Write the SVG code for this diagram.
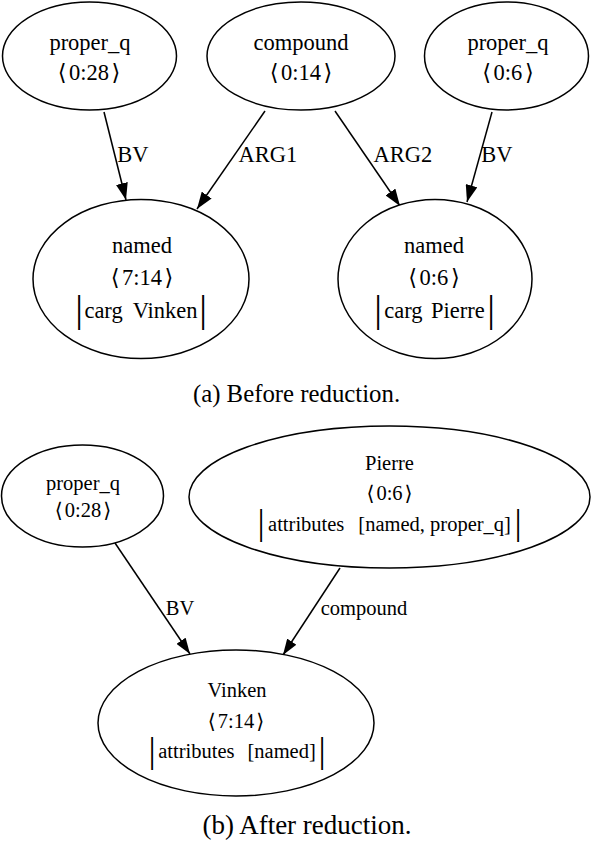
<svg xmlns="http://www.w3.org/2000/svg" width="592" height="844" viewBox="0 0 592 844">
<style>
.n{fill:#fff;stroke:#000;stroke-width:1.5}
.e{stroke:#000;stroke-width:1.5;fill:none}
text{font-family:"Liberation Serif","DejaVu Serif",serif;fill:#000;text-anchor:middle}
.t{font-size:22.5px}
.b{font-size:20.5px}
.bar1{font-size:38.5px}
.bar2{font-size:36px}
.cap{font-size:24.8px}
.capb{font-size:27px}
</style>
<defs>
<marker id="ah" markerUnits="userSpaceOnUse" markerWidth="17" markerHeight="12" refX="17" refY="6" orient="auto">
<path d="M0,0 L17,6 L0,12 z" fill="#000"/>
</marker>
<marker id="ah2" markerUnits="userSpaceOnUse" markerWidth="16" markerHeight="11" refX="16" refY="5.5" orient="auto">
<path d="M0,0 L16,5.5 L0,11 z" fill="#000"/>
</marker>
</defs>
<rect width="592" height="844" fill="#fff"/>
<g id="connectors">
<line class="e" x1="104" y1="112" x2="126" y2="200" marker-end="url(#ah)"/>
<line class="e" x1="265" y1="111" x2="197" y2="209" marker-end="url(#ah)"/>
<line class="e" x1="335" y1="111" x2="400" y2="206" marker-end="url(#ah)"/>
<line class="e" x1="492" y1="112" x2="467" y2="202" marker-end="url(#ah)"/>
<text class="t" x="133" y="162">BV</text>
<text class="t" x="268" y="162">ARG1</text>
<text class="t" x="403" y="162">ARG2</text>
<text class="t" x="497" y="162">BV</text>
<line class="e" x1="115" y1="543" x2="190" y2="654" marker-end="url(#ah2)"/>
<line class="e" x1="340" y1="568" x2="283" y2="655" marker-end="url(#ah2)"/>
<text class="b" x="180" y="615">BV</text>
<text class="b" x="364" y="615">compound</text>
</g>
<g id="a_proper_q1">
<ellipse class="n" cx="89.5" cy="56" rx="87" ry="54"/>
<text class="t" x="90" y="50">proper_q</text>
<text class="t" x="89" y="80">⟨<tspan dx="2.5">0:28</tspan><tspan dx="2.5">⟩</tspan></text>
</g>
<g id="a_compound">
<ellipse class="n" cx="301" cy="56" rx="94" ry="54"/>
<text class="t" x="301" y="50">compound</text>
<text class="t" x="301" y="80">⟨<tspan dx="2.5">0:14</tspan><tspan dx="2.5">⟩</tspan></text>
</g>
<g id="a_proper_q2">
<ellipse class="n" cx="506.5" cy="56" rx="82" ry="54"/>
<text class="t" x="508" y="50">proper_q</text>
<text class="t" x="508" y="80">⟨<tspan dx="2.5">0:6</tspan><tspan dx="2.5">⟩</tspan></text>
</g>
<g id="a_named_vinken">
<ellipse class="n" cx="141" cy="279" rx="108" ry="79.5"/>
<text class="t" x="142" y="253">named</text>
<text class="t" x="142" y="285">⟨<tspan dx="2.5">7:14</tspan><tspan dx="2.5">⟩</tspan></text>
<text class="bar1" x="79" y="321.5">|</text>
<text class="t" x="141" y="318">carg<tspan dx="10">Vinken</tspan></text>
<text class="bar1" x="203" y="321.5">|</text>
</g>
<g id="a_named_pierre">
<ellipse class="n" cx="435" cy="279" rx="97" ry="79.5"/>
<text class="t" x="434" y="253">named</text>
<text class="t" x="434" y="285">⟨<tspan dx="2.5">0:6</tspan><tspan dx="2.5">⟩</tspan></text>
<text class="bar1" x="378" y="321.5">|</text>
<text class="t" x="434.5" y="318">carg<tspan dx="8.5">Pierre</tspan></text>
<text class="bar1" x="491" y="321.5">|</text>
</g>
<text class="cap" x="296.5" y="402">(a) Before reduction.</text>
<g id="b_proper_q">
<ellipse class="n" cx="82.5" cy="496" rx="81" ry="51"/>
<text class="b" x="83" y="490">proper_q</text>
<text class="b" x="83" y="517">⟨<tspan dx="2">0:28</tspan><tspan dx="2">⟩</tspan></text>
</g>
<g id="b_pierre">
<ellipse class="n" cx="389.5" cy="497" rx="200.5" ry="71"/>
<text class="b" x="389.5" y="470">Pierre</text>
<text class="b" x="389.5" y="500">⟨<tspan dx="2">0:6</tspan><tspan dx="2">⟩</tspan></text>
<text class="bar2" x="261" y="534">|</text>
<text class="b" x="389.5" y="531">attributes<tspan dx="14">[named, proper_q]</tspan></text>
<text class="bar2" x="518" y="534">|</text>
</g>
<g id="b_vinken">
<ellipse class="n" cx="236" cy="723" rx="138" ry="73"/>
<text class="b" x="237" y="697">Vinken</text>
<text class="b" x="236" y="728">⟨<tspan dx="2">7:14</tspan><tspan dx="2">⟩</tspan></text>
<text class="bar2" x="152" y="762">|</text>
<text class="b" x="237" y="758">attributes<tspan dx="13">[named]</tspan></text>
<text class="bar2" x="322" y="762">|</text>
</g>
<text class="capb" x="307" y="834">(b) After reduction.</text>
</svg>
